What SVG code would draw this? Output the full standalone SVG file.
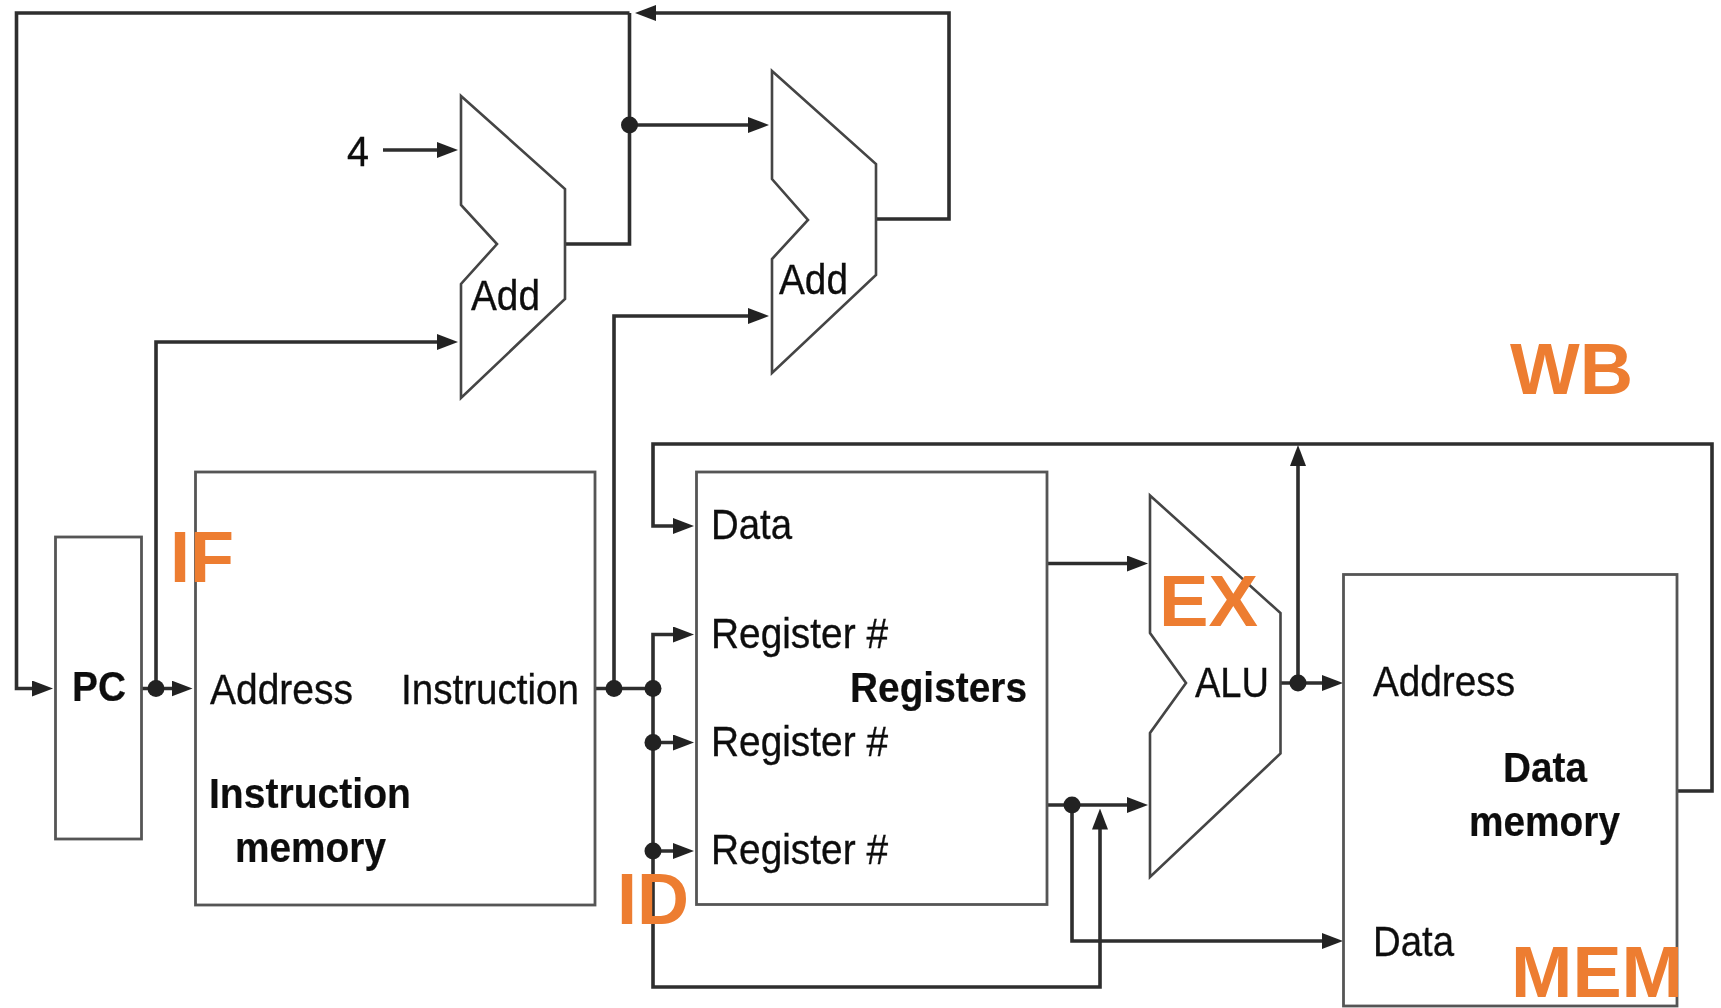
<svg xmlns="http://www.w3.org/2000/svg" width="1721" height="1008" viewBox="0 0 1721 1008">
<style>
.bg{fill:#fff}
.box{fill:none;stroke:#555;stroke-width:2.8}
.alu{fill:none;stroke:#444;stroke-width:2.6;stroke-linejoin:miter}
.w{fill:none;stroke:#2e2e2e;stroke-width:3.6;stroke-linejoin:miter}
.a{marker-end:url(#ah)}
.dot{fill:#222}
text{font-family:"Liberation Sans",Arial,sans-serif;fill:#111;font-size:43px;stroke:#111;stroke-width:.35}
.b{font-weight:700;stroke-width:.2}
.o{font-weight:700;fill:#ED7D31;stroke:none;font-size:73px}
</style>
<defs>
<marker id="ah" markerUnits="userSpaceOnUse" markerWidth="21" markerHeight="16" refX="9" refY="8" orient="auto"><path d="M0 0L21 8L0 16z" fill="#222"/></marker>
<filter id="soft" x="-2%" y="-2%" width="104%" height="104%"><feGaussianBlur stdDeviation="0.55"/></filter>
</defs>
<rect class="bg" width="1721" height="1008"/>
<g filter="url(#soft)">
<g id="connectors">
<path class="w a" d="M629.500 13H16.500V688.500H41"/>
<path class="w" d="M564 244H629.500V13"/>
<path class="w a" d="M876 219H949V13H647"/>
<path class="w a" d="M629.500 125H757"/>
<path class="w a" d="M383 150H446"/>
<path class="w a" d="M141 688.500H180.500"/>
<path class="w a" d="M156 688.500V342H446"/>
<path class="w a" d="M595 688.500H614V316H757"/>
<path class="w" d="M614 688.500H653"/>
<path class="w a" d="M653 688.500V634.500H682"/>
<path class="w a" d="M653 688.500V742.500H682"/>
<path class="w a" d="M653 742.500V851H682"/>
<path class="w a" d="M653 851V987H1100V820.500"/>
<path class="w a" d="M1677 791H1712V444H653V526H682"/>
<path class="w a" d="M1047 563.500H1136"/>
<path class="w a" d="M1047 805H1136"/>
<path class="w a" d="M1072 805V941H1331"/>
<path class="w a" d="M1280.500 683H1331"/>
<path class="w a" d="M1298 683V457"/>
<circle class="dot" cx="629.500" cy="125" r="8.500"/>
<circle class="dot" cx="156" cy="688.500" r="8.500"/>
<circle class="dot" cx="614" cy="688.500" r="8.500"/>
<circle class="dot" cx="653" cy="688.500" r="8.500"/>
<circle class="dot" cx="653" cy="742.500" r="8.500"/>
<circle class="dot" cx="653" cy="851" r="8.500"/>
<circle class="dot" cx="1072" cy="805" r="8.500"/>
<circle class="dot" cx="1298" cy="683" r="8.500"/>
</g>
<g id="four"><text x="347" y="166" textLength="22" lengthAdjust="spacingAndGlyphs">4</text></g>
<g id="add1">
<path class="alu" d="M461 96L565 189V299L461 398V284L497 244L461 205Z"/>
<text x="471" y="310" textLength="69" lengthAdjust="spacingAndGlyphs">Add</text>
</g>
<g id="add2">
<path class="alu" d="M772 71L876 164V275L772 373V259L808 220L772 179Z"/>
<text x="779" y="294" textLength="69" lengthAdjust="spacingAndGlyphs">Add</text>
</g>
<g id="pc">
<rect class="box" x="55.500" y="537" width="86" height="302"/>
<text class="b" x="72" y="701" textLength="54" lengthAdjust="spacingAndGlyphs">PC</text>
</g>
<g id="instruction-memory">
<rect class="box" x="195.500" y="472" width="399.500" height="433"/>
<text x="210" y="704" textLength="143" lengthAdjust="spacingAndGlyphs">Address</text>
<text x="401" y="704" textLength="178" lengthAdjust="spacingAndGlyphs">Instruction</text>
<text class="b" x="209" y="808" textLength="202" lengthAdjust="spacingAndGlyphs">Instruction</text>
<text class="b" x="235" y="862" textLength="151" lengthAdjust="spacingAndGlyphs">memory</text>
</g>
<g id="registers">
<rect class="box" x="696.500" y="472" width="350.500" height="432.500"/>
<text x="711" y="539" textLength="81" lengthAdjust="spacingAndGlyphs">Data</text>
<text x="711" y="648" textLength="177" lengthAdjust="spacingAndGlyphs">Register #</text>
<text x="711" y="756" textLength="177" lengthAdjust="spacingAndGlyphs">Register #</text>
<text x="711" y="864" textLength="177" lengthAdjust="spacingAndGlyphs">Register #</text>
<text class="b" x="850" y="702" textLength="177" lengthAdjust="spacingAndGlyphs">Registers</text>
</g>
<g id="alu">
<path class="alu" d="M1150 495.500L1280.500 613V753.500L1150 877V733L1186 683L1150 633Z"/>
<text x="1195" y="697" textLength="74" lengthAdjust="spacingAndGlyphs">ALU</text>
</g>
<g id="data-memory">
<rect class="box" x="1343.500" y="574.500" width="333.500" height="431.500"/>
<text x="1373" y="696" textLength="142" lengthAdjust="spacingAndGlyphs">Address</text>
<text class="b" x="1503" y="782" textLength="84" lengthAdjust="spacingAndGlyphs">Data</text>
<text class="b" x="1469" y="836" textLength="151" lengthAdjust="spacingAndGlyphs">memory</text>
<text x="1373" y="956" textLength="81" lengthAdjust="spacingAndGlyphs">Data</text>
</g>
</g>
<g id="stage-labels">
<text class="o" x="170" y="582" textLength="64" lengthAdjust="spacingAndGlyphs">IF</text>
<text class="o" x="617" y="924" textLength="72" lengthAdjust="spacingAndGlyphs">ID</text>
<text class="o" x="1159" y="626" textLength="99" lengthAdjust="spacingAndGlyphs">EX</text>
<text class="o" x="1510" y="394" textLength="123" lengthAdjust="spacingAndGlyphs">WB</text>
<text class="o" x="1511" y="997" textLength="172" lengthAdjust="spacingAndGlyphs">MEM</text>
</g>
</svg>
